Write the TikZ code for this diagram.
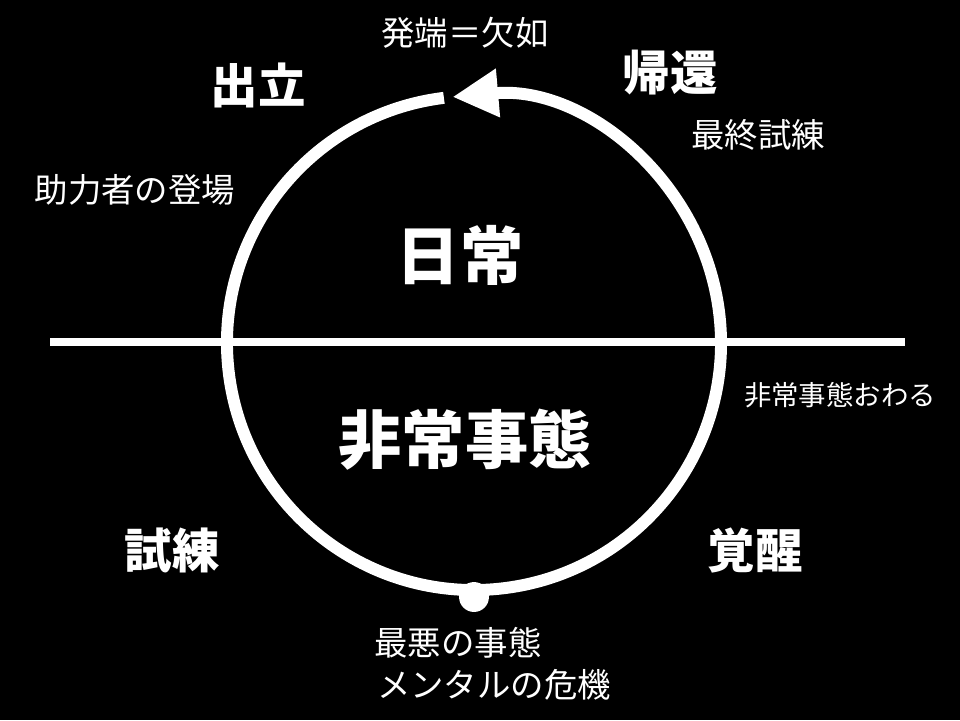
\documentclass[tikz,border=0pt]{standalone}
\usepackage{fontspec}
\setmainfont{Noto Sans CJK JP}
\usetikzlibrary{arrows.meta}

\begin{document}
\begin{tikzpicture}[x=0.01cm,y=-0.01cm,
	big/.style={text=white,font=\fontsize{18}{18}\selectfont\bfseries},
	mid/.style={text=white,font=\fontsize{13.5}{13.5}\selectfont\bfseries},
	small/.style={text=white,font=\fontsize{9.5}{10}\selectfont},
	ring/.style={draw=white,line width=3.4pt}]
			\fill[black] (0,0) rectangle (960,720);
			\useasboundingbox (0,0) rectangle (960,720);

			\coordinate (c) at (474,343);
			\coordinate (lw) at (50,342);
			\coordinate (le) at (905,342);

			%% axis and cycle
			\draw[white, line width=2.3pt] (lw) -- (le);
			\draw[ring, -{Triangle[length=13pt,width=13pt]}] ([shift={(-97:247)}]c) arc[start angle=-97, end angle=-455, radius=247];
			\node[circle, fill=white, inner sep=0pt, minimum size=8.5pt] (low) at (474,597) {};

			%% labels
			\node[big] (day) at (460,255) {日常};
			\node[big] (crisis) at (465,440) {非常事態};
			\node[mid] (dep) at (258,85) {出立};
			\node[mid] (ret) at (670,73) {帰還};
			\node[mid] (trial) at (172,550) {試練};
			\node[mid] (wake) at (755,550) {覚醒};
			\node[small] (start) at (465,33) {発端＝欠如};
			\node[small] (final) at (758,135) {最終試練};
			\node[small] (helper) at (135,190) {助力者の登場};
			\node[small, font=\fontsize{7.8}{8}\selectfont] (end) at (840,395) {非常事態おわる};
			\node[small] (worst) at (458,643) {最悪の事態};
			\node[small] (mental) at (494,685) {メンタルの危機};
		\end{tikzpicture}
\end{document}
